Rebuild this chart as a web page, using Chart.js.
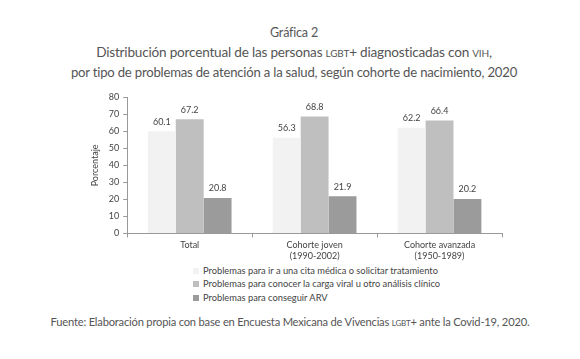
<!DOCTYPE html>
<html>
<head>
<meta charset="utf-8">
<script src="https://cdn.jsdelivr.net/npm/chart.js@4.4.0/dist/chart.umd.min.js"></script>
<style>
  body { margin: 0; background: #fff; width: 580px; height: 359px; position: relative; overflow: hidden; font-family: Lato, sans-serif; color: #555; }
  .title { position: absolute; left: 4px; width: 580px; text-align: center; font-size: 12px; line-height: 14px; letter-spacing: -0.2px; }
  .title span.t { white-space: nowrap; }
  .sc { font-variant: small-caps; text-transform: lowercase; }
  #wrap { position: absolute; left: 80px; top: 88px; width: 440px; height: 175px; }
  #legend { position: absolute; left: 193px; top: 264px; font-size: 9.3px; color: #444; line-height: 13.3px; font-family: Lato, sans-serif; }
  #legend span.box { display: inline-block; width: 6px; height: 6px; margin-right: 4px; vertical-align: 0px; }
</style>
</head>
<body>
<div class="title" style="top:26px"><span class="t" data-w="48">Gráfica 2</span></div>
<div class="title" style="top:45px"><span class="t" data-w="390">Distribución porcentual de las personas <span class="sc">LGBT</span>+ diagnosticadas con <span class="sc">VIH</span>,</span></div>
<div class="title" style="top:65px"><span class="t" data-w="445">por tipo de problemas de atención a la salud, según cohorte de nacimiento, 2020</span></div>
<div id="wrap"><canvas id="myChart"></canvas></div>
<div id="legend"></div>
<div class="title" style="top:315px; left:0"><span class="t" data-w="479">Fuente: Elaboración propia con base en Encuesta Mexicana de Vivencias <span class="sc">LGBT</span>+ ante la Covid-19, 2020.</span></div>
<script>
const categorias = [['Total'], ['Cohorte joven', '(1990-2002)'], ['Cohorte avanzada', '(1950-1989)']];
const series = [
    'Problemas para ir a una cita médica o solicitar tratamiento',
    'Problemas para conocer la carga viral u otro análisis clínico',
    'Problemas para conseguir ARV'
];
const citaMedica = [60.1, 56.3, 62.2];
const cargaViral = [67.2, 68.8, 66.4];
const conseguirArv = [20.8, 21.9, 20.2];
const ticksY = [0, 10, 20, 30, 40, 50, 60, 70, 80];

const colores = ['#f2f2f2', '#bfbfbf', '#9b9b9b'];

// ajustar el tamaño de los textos al ancho del original
document.querySelectorAll('span.t').forEach(el => {
    const w = el.getBoundingClientRect().width;
    const objetivo = +el.dataset.w;
    el.style.fontSize = (12 * objetivo / w).toFixed(2) + 'px';
});

// etiquetas de valor encima de cada barra
const etiquetas = {
    id: 'etiquetas',
    afterDatasetsDraw(chart) {
        const c = chart.ctx;
        c.save();
        c.font = '9px Lato';
        c.fillStyle = '#444';
        c.textAlign = 'center';
        c.textBaseline = 'bottom';
        chart.data.datasets.forEach((ds, i) => {
            chart.getDatasetMeta(i).data.forEach((bar, j) => {
                c.fillText(ds.data[j].toFixed(1), bar.x, bar.y - 5);
            });
        });
        c.restore();
    }
};

const ctx = document.getElementById('myChart').getContext('2d');
const myChart = new Chart(ctx, {
    type: 'bar',
    data: {
        labels: categorias,
        datasets: [
            { label: series[0], data: citaMedica, backgroundColor: colores[0] },
            { label: series[1], data: cargaViral, backgroundColor: colores[1] },
            { label: series[2], data: conseguirArv, backgroundColor: colores[2] }
        ]
    },
    options: {
        responsive: true,
        maintainAspectRatio: false,
        animation: false,
        layout: { padding: { left: 6, right: 18, top: 6, bottom: 0 } },
        plugins: {
            legend: { display: false },
            tooltip: { enabled: false }
        },
        datasets: {
            bar: { categoryPercentage: 0.67, barPercentage: 1.0 }
        },
        scales: {
            x: {
                grid: { display: true, drawOnChartArea: false, offset: true, tickLength: 4, color: '#999' },
                border: { color: '#999' },
                ticks: { color: '#444', font: { family: 'Lato', size: 9 }, padding: 2, maxRotation: 0 }
            },
            y: {
                min: 0,
                max: 80,
                afterBuildTicks(scale) { scale.ticks = ticksY.map(v => ({ value: v })); },
                grid: { display: true, drawOnChartArea: false, tickLength: 4, color: '#999' },
                border: { color: '#999' },
                ticks: { color: '#444', font: { family: 'Lato', size: 9 }, padding: 4 },
                title: { display: true, text: 'Porcentaje', color: '#444', font: { family: 'Lato', size: 9 }, padding: 4 }
            }
        }
    },
    plugins: [etiquetas]
});

// leyenda en lista vertical
document.getElementById('legend').innerHTML = series.map((s, i) =>
    '<div><span class="box" style="background:' + colores[i] + '"></span>' + s + '</div>'
).join('');
</script>
</body>
</html>
